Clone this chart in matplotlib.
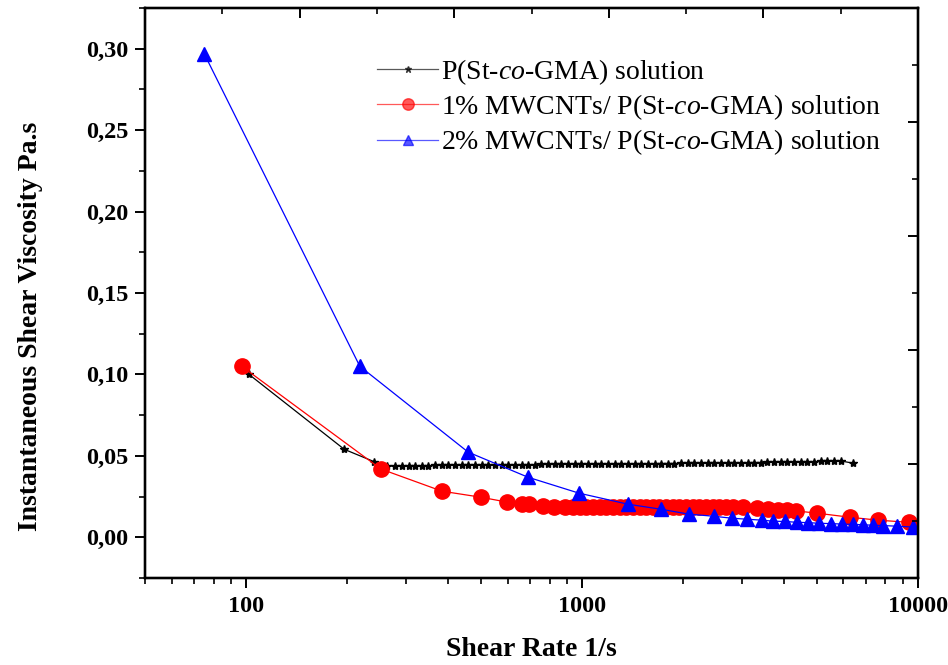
import matplotlib
matplotlib.use('Agg')
import matplotlib.pyplot as plt
from matplotlib.ticker import FixedLocator, MultipleLocator, FuncFormatter, NullFormatter

plt.rcParams['mathtext.fontset'] = 'custom'
plt.rcParams['mathtext.rm'] = 'Liberation Serif'
plt.rcParams['mathtext.it'] = 'Liberation Serif:italic'
plt.rcParams['mathtext.bf'] = 'Liberation Serif:bold'

# ---------------- data ----------------
black_x = [102, 196, 240, 263, 278, 291, 305, 319, 334, 349, 365, 382, 400, 419,
           438, 459, 480, 503, 526, 551, 576, 603, 631, 661, 691, 724, 757, 793,
           829, 868, 909, 951, 995, 1042, 1090, 1141, 1194, 1250, 1308, 1369, 1433,
           1500, 1569, 1643, 1719, 1799, 1883, 1971, 2063, 2159, 2259, 2365, 2475,
           2590, 2711, 2837, 2969, 3108, 3253, 3404, 3563, 3729, 3903, 4084, 4275,
           4474, 4682, 4901, 5129, 5368, 5618, 5880, 6410]
black_y = [0.100, 0.054, 0.0465, 0.0440,
           0.0435, 0.0437, 0.0438, 0.0439, 0.0440, 0.0440, 0.0441, 0.0441, 0.0442, 0.0442,
           0.0443, 0.0443, 0.0443, 0.0444, 0.0444, 0.0444, 0.0445, 0.0445, 0.0445, 0.0446,
           0.0446, 0.0446, 0.0447, 0.0447, 0.0447, 0.0448, 0.0448, 0.0448, 0.0449, 0.0449,
           0.0449, 0.0450, 0.0450, 0.0450, 0.0451, 0.0451, 0.0451, 0.0452, 0.0452, 0.0452,
           0.0453, 0.0453, 0.0453, 0.0454, 0.0454, 0.0455, 0.0455, 0.0455, 0.0456, 0.0456,
           0.0457, 0.0457, 0.0458, 0.0458, 0.0459, 0.0459, 0.0460, 0.0460, 0.0461, 0.0462,
           0.0462, 0.0463, 0.0464, 0.0465, 0.0466, 0.0467, 0.0468, 0.0469,
           0.0455]

red_x = [97, 252, 383, 500, 598, 663, 695, 765, 826, 890,
         940, 984, 1030, 1078, 1128, 1181, 1236, 1294, 1354, 1417,
         1483, 1552, 1625, 1700, 1780, 1863, 1950, 2040, 2136, 2235,
         2339, 2448, 2563, 2682, 2807,
         3013, 3319, 3580, 3831, 4074, 4336,
         5005, 6279, 7608, 9400]
red_y = [0.105, 0.0419, 0.0283, 0.0246, 0.0216, 0.0205, 0.0203, 0.0193, 0.0188, 0.0185,
         0.0185, 0.0186, 0.0186, 0.0187, 0.0187, 0.0187, 0.0188, 0.0188, 0.0188, 0.0188,
         0.0189, 0.0189, 0.0189, 0.0189, 0.0189, 0.0189, 0.0189, 0.0189, 0.0189, 0.0188,
         0.0188, 0.0188, 0.0187, 0.0187, 0.0186,
         0.0184, 0.0180, 0.0174, 0.0169, 0.0167, 0.0162,
         0.0148, 0.0123, 0.0105, 0.0092]

blue_x = [75, 218, 458, 690, 979, 1371, 1719, 2082, 2471, 2795, 3097, 3433, 3702,
          4018, 4363, 4707, 5074, 5508, 5937, 6407, 6862, 7350, 7871, 8664, 9665]
blue_y = [0.297, 0.105, 0.0523, 0.0369, 0.0271, 0.0203, 0.0172, 0.0142, 0.0129,
          0.0117, 0.0111, 0.0105, 0.0099, 0.0097, 0.0092, 0.0090, 0.0086, 0.0084,
          0.0081, 0.0079, 0.0077, 0.0074, 0.0072, 0.0068, 0.0063]

labels = ['P(St-$\\mathit{co}$-GMA) solution',
          '1% MWCNTs/ P(St-$\\mathit{co}$-GMA) solution',
          '2% MWCNTs/ P(St-$\\mathit{co}$-GMA) solution']

x_major = [100, 1000, 10000]
x_minor = [50, 60, 70, 80, 90, 200, 300, 400, 500, 600, 700, 800, 900,
           2000, 3000, 4000, 5000, 6000, 7000, 8000, 9000]

# ---------------- figure ----------------
serif = 'Liberation Serif'
fig = plt.figure(figsize=(9.48, 6.65), dpi=100)
ax = fig.add_axes([145 / 948, 87 / 665, 773 / 948, 570 / 665])

ax.plot(black_x, black_y, color='black', lw=0.9, marker='*', ms=6,
        label=labels[0], zorder=3)
ax.plot(red_x, red_y, color='#ff0000', lw=0.9, marker='o', ms=11,
        label=labels[1], zorder=4)
ax.plot(blue_x, blue_y, color='#0000ff', lw=0.9, marker='^', ms=10.5,
        label=labels[2], zorder=5)

ax.set_xscale('log')
ax.set_xlim(50, 10000)
ax.set_ylim(-0.025, 0.325)

ax.xaxis.set_major_locator(FixedLocator(x_major))
ax.xaxis.set_minor_locator(FixedLocator(x_minor))
ax.xaxis.set_major_formatter(FuncFormatter(lambda v, p: '%d' % round(v)))
ax.xaxis.set_minor_formatter(NullFormatter())
ax.yaxis.set_major_locator(MultipleLocator(0.05))
ax.yaxis.set_minor_locator(MultipleLocator(0.025))
ax.yaxis.set_major_formatter(FuncFormatter(
    lambda v, p: ('%.2f' % v).replace('.', ',').replace('-0,00', '0,00')))

for s in ax.spines.values():
    s.set_linewidth(1.6)

ax.tick_params(which='major', direction='out', length=7, width=1.4,
               labelsize=17.5, pad=6)
ax.tick_params(which='minor', direction='out', length=4.5, width=1.2)
ax.tick_params(axis='y', which='major', pad=5)

ax.set_xlabel('Shear Rate 1/s', fontfamily=serif, fontweight='bold', fontsize=20)
ax.set_ylabel('Instantaneous Shear Viscosity Pa.s', fontfamily=serif,
              fontweight='bold', fontsize=20)
ax.xaxis.set_label_coords(0.5, -0.103)
ax.yaxis.set_label_coords(-0.132, 0.442)

# top and right axes (independent linear scales, inward ticks, no labels)
axt = ax.twiny()
axt.set_xlim(0, 10)
axt.xaxis.set_major_locator(MultipleLocator(2))
axt.xaxis.set_minor_locator(MultipleLocator(1))
axt.tick_params(axis='x', which='major', direction='in', length=7, width=1.4,
                labeltop=False)
axt.tick_params(axis='x', which='minor', direction='in', length=4, width=1.2)

axr = ax.twinx()
axr.set_ylim(0, 10)
axr.yaxis.set_major_locator(MultipleLocator(2))
axr.yaxis.set_minor_locator(MultipleLocator(1))
axr.tick_params(axis='y', which='major', direction='in', length=7, width=1.4,
                labelright=False)
axr.tick_params(axis='y', which='minor', direction='in', length=4, width=1.2)
for a in (axt, axr):
    for s in a.spines.values():
        s.set_linewidth(1.6)

for lab in ax.get_xticklabels() + ax.get_yticklabels():
    lab.set_fontfamily(serif)
    lab.set_fontweight('bold')

leg = ax.legend(loc='upper left', bbox_to_anchor=(377 / 948, 1 - 57 / 665),
                bbox_transform=fig.transFigure, frameon=False,
                prop={'family': serif, 'size': 20}, handlelength=2.2,
                handletextpad=0.1, labelspacing=0.2, borderpad=0,
                borderaxespad=0, markerscale=0.75)
for h in leg.legend_handles:
    h.set_alpha(0.65)

fig.savefig('out.png', dpi=100)
